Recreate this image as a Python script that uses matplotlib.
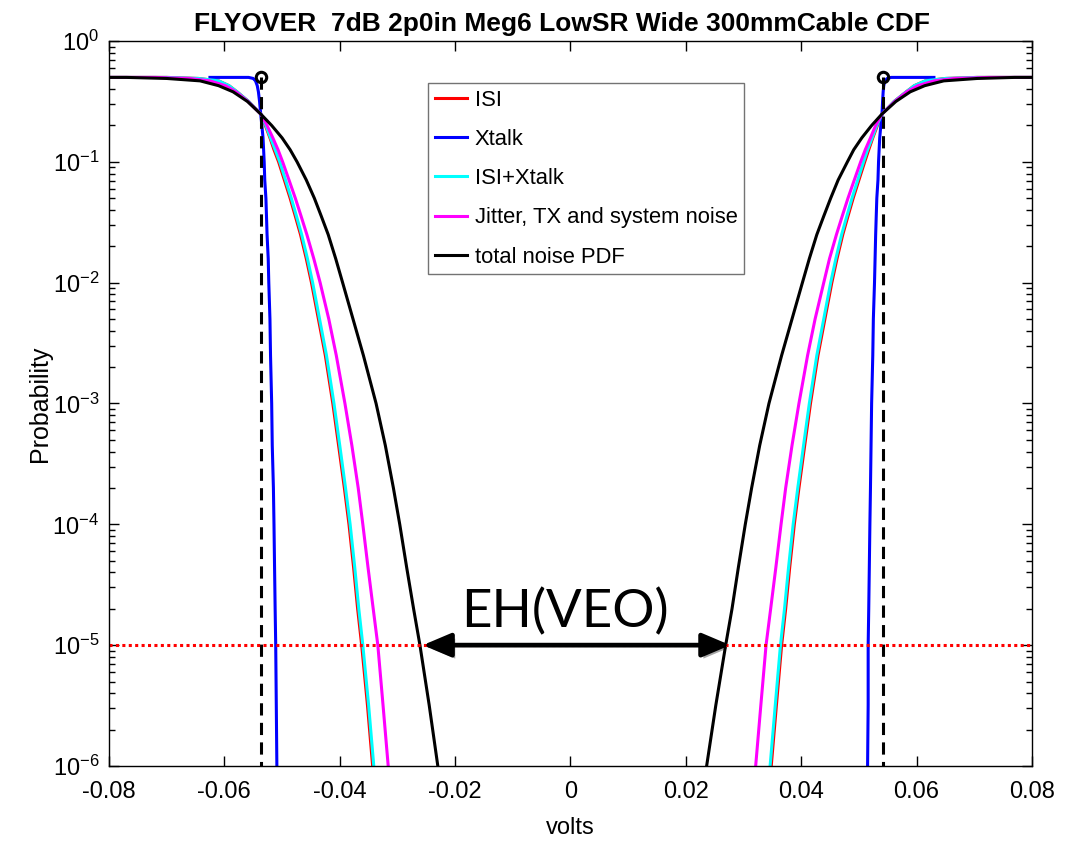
import numpy as np
import matplotlib.pyplot as plt
from matplotlib.patches import FancyArrowPatch
from matplotlib.ticker import LogLocator, NullFormatter
import matplotlib.patheffects as pe

plt.rcParams['font.family'] = ['Liberation Sans', 'DejaVu Sans']
plt.rcParams['axes.unicode_minus'] = False

# ----------------------------
# CDF data: volts at each probability level
# ----------------------------
prob = [0.5, 0.5, 0.49, 0.468, 0.427, 0.38, 0.316, 0.249, 0.2, 0.158, 0.126, 0.1,
        0.0708, 0.05, 0.0355, 0.025, 0.0158, 0.01, 5e-3, 2.5e-3, 1e-3, 4.5e-4,
        2e-4, 1e-4, 4.4e-5, 2e-5, 1e-5, 3.2e-6, 1e-6, 3.2e-7]

isi_left = [-0.080, -0.070, -0.0645, -0.061, -0.0592, -0.0578, -0.0558, -0.0537, -0.0529, -0.0521,
            -0.0514, -0.0506, -0.0496, -0.0486, -0.0477, -0.0468, -0.0458, -0.0449, -0.0437, -0.0425,
            -0.0412, -0.0402, -0.0392, -0.0384, -0.0376, -0.0369, -0.0362, -0.0352, -0.0343, -0.0334]
isi_right = [0.080, 0.0705, 0.065, 0.0615, 0.0596, 0.0582, 0.0561, 0.0540, 0.0532, 0.0524,
             0.0517, 0.0510, 0.0500, 0.0490, 0.0481, 0.0472, 0.0462, 0.0453, 0.0441, 0.0429,
             0.0416, 0.0406, 0.0396, 0.0388, 0.0380, 0.0373, 0.0366, 0.0357, 0.0348, 0.0339]

xtalk_left = [-0.0625, -0.0558, -0.0550, -0.0546, -0.0543, -0.0541, -0.0539, -0.0537, -0.0535, -0.0533,
              -0.0532, -0.0531, -0.0530, -0.0528, -0.0527, -0.0526, -0.0524, -0.0523, -0.0521, -0.0520,
              -0.0518, -0.0517, -0.0515, -0.0514, -0.0513, -0.0512, -0.0511, -0.0510, -0.0509, -0.0508]
xtalk_right = [0.0630, 0.0556, 0.0549, 0.0545, 0.0543, 0.0542, 0.0541, 0.0540, 0.0538, 0.0536,
               0.0535, 0.0534, 0.0533, 0.0531, 0.0530, 0.0529, 0.0528, 0.0527, 0.0525, 0.0524,
               0.0522, 0.0521, 0.0520, 0.0519, 0.0518, 0.0517, 0.0516, 0.0516, 0.0515, 0.0514]

isixt_left = [-0.080, -0.070, -0.0645, -0.061, -0.0592, -0.0578, -0.0558, -0.0537, -0.0528, -0.0520,
              -0.0512, -0.0504, -0.0494, -0.0484, -0.0475, -0.0466, -0.0456, -0.0447, -0.0435, -0.0423,
              -0.0410, -0.0400, -0.0390, -0.0382, -0.0374, -0.0367, -0.0360, -0.0350, -0.0341, -0.0332]
isixt_right = [0.080, 0.0705, 0.065, 0.0615, 0.0596, 0.0582, 0.0561, 0.0540, 0.0531, 0.0523,
               0.0515, 0.0508, 0.0498, 0.0488, 0.0479, 0.0470, 0.0460, 0.0451, 0.0439, 0.0427,
               0.0414, 0.0404, 0.0394, 0.0386, 0.0378, 0.0371, 0.0364, 0.0355, 0.0346, 0.0337]

jitter_left = [-0.080, -0.072, -0.066, -0.0625, -0.0598, -0.0580, -0.0559, -0.0537, -0.0526, -0.0516,
               -0.0507, -0.0499, -0.0488, -0.0477, -0.0467, -0.0457, -0.0445, -0.0434, -0.0419, -0.0406,
               -0.0391, -0.0379, -0.0368, -0.0360, -0.0351, -0.0342, -0.0334, -0.0325, -0.0316, -0.0307]
jitter_right = [0.080, 0.0725, 0.0665, 0.063, 0.0602, 0.0583, 0.0562, 0.0540, 0.0529, 0.0520,
                0.0511, 0.0503, 0.0492, 0.0481, 0.0471, 0.0461, 0.0449, 0.0439, 0.0424, 0.0411,
                0.0396, 0.0384, 0.0373, 0.0365, 0.0356, 0.0347, 0.0339, 0.0330, 0.0321, 0.0312]

total_left = [-0.080, -0.077, -0.070, -0.0642, -0.0610, -0.0585, -0.0560, -0.0537, -0.0518, -0.0500,
              -0.0486, -0.0474, -0.0458, -0.0444, -0.0432, -0.0420, -0.0407, -0.0395, -0.0377, -0.0359,
              -0.0337, -0.0321, -0.0307, -0.0296, -0.0284, -0.0272, -0.0261, -0.0245, -0.0230, -0.0216]
total_right = [0.080, 0.077, 0.0705, 0.0647, 0.0614, 0.0589, 0.0564, 0.0540, 0.0522, 0.0505,
               0.0491, 0.0480, 0.0464, 0.0451, 0.0439, 0.0427, 0.0414, 0.0402, 0.0384, 0.0366,
               0.0344, 0.0328, 0.0314, 0.0303, 0.0291, 0.0280, 0.0269, 0.0252, 0.0236, 0.0222]

series = [
    ("ISI", (1, 0, 0), isi_left, isi_right),
    ("Xtalk", (0, 0, 1), xtalk_left, xtalk_right),
    ("ISI+Xtalk", (0, 1, 1), isixt_left, isixt_right),
    ("Jitter, TX and system noise", (1, 0, 1), jitter_left, jitter_right),
    ("total noise PDF", (0, 0, 0), total_left, total_right),
]

# signal levels and BER target
level_left = -0.0537
level_right = 0.0541
level_prob = 0.5
target_ber = 1e-5
eh_left = -0.0256
eh_right = 0.0277

xtick_vals = [-0.08, -0.06, -0.04, -0.02, 0, 0.02, 0.04, 0.06, 0.08]
xtick_text = ["-0.08", "-0.06", "-0.04", "-0.02", "0", "0.02", "0.04", "0.06", "0.08"]
ytick_vals = [1e-6, 1e-5, 1e-4, 1e-3, 1e-2, 1e-1, 1e0]

# ----------------------------
# Plot
# ----------------------------
fig = plt.figure(figsize=(10.76, 8.46), dpi=100)
ax = fig.add_axes([0.1013, 0.0946, 0.8578, 0.8569])

p = np.array(prob)
for name, col, vl, vr in series:
    ax.semilogy(vl, p, color=col, lw=2.2, label=name)
    ax.semilogy(vr, p, color=col, lw=2.2)

# signal level markers
for v in (level_left, level_right):
    ax.semilogy([v, v], [level_prob, 1e-6], color="k", lw=2.2, dashes=(4, 2.4))
    ax.semilogy([v], [level_prob], "o", mfc="none", mec="k", mew=2.2, ms=7.5)

# BER target line
ax.axhline(target_ber, color=(1, 0, 0), lw=2.2, linestyle=(0, (1, 1.1)))

# eye height arrow
arr = FancyArrowPatch((eh_left, target_ber), (eh_right, target_ber),
                      arrowstyle="<|-|>,head_length=0.85,head_width=0.36",
                      mutation_scale=20, lw=3.4, color="k",
                      shrinkA=0, shrinkB=0, zorder=5)
arr.set_path_effects([pe.SimplePatchShadow(offset=(2, -2.5), alpha=0.35), pe.Normal()])
ax.add_patch(arr)
ax.text(-0.0009, 1.4e-5, "EH(VEO)", ha="center", va="baseline",
        fontsize=38, family=["Lato", "DejaVu Sans"])

ax.set_xlim(-0.08, 0.08)
ax.set_ylim(1e-6, 1)
ax.set_xticks(xtick_vals)
ax.set_xticklabels(xtick_text)
ax.set_yticks(ytick_vals)
ax.yaxis.set_minor_locator(LogLocator(base=10, subs=np.arange(2, 10)))
ax.yaxis.set_minor_formatter(NullFormatter())
ax.tick_params(which="both", direction="in", top=True, right=True, labelsize=17)
ax.tick_params(which="major", length=7, width=1)
ax.tick_params(which="minor", length=4, width=1)
ax.tick_params(axis="x", pad=11)
ax.tick_params(axis="y", pad=7)
for s in ax.spines.values():
    s.set_linewidth(1.0)

ax.set_title("FLYOVER  7dB 2p0in Meg6 LowSR Wide 300mmCable CDF",
             fontsize=19, fontweight="bold", pad=7, x=0.491)
ax.set_xlabel("volts", fontsize=17, labelpad=10)
ax.set_ylabel("Probability", fontsize=18)
ax.yaxis.set_label_coords(-0.062, 0.5)

leg = ax.legend(loc="upper left", bbox_to_anchor=(0.3456, 0.942),
                prop={"size": 15.8}, fancybox=False, edgecolor="0.45",
                framealpha=1, handlelength=1.5, handletextpad=0.32,
                labelspacing=0.83, borderpad=0.3, borderaxespad=0)
leg.get_frame().set_linewidth(1.0)

fig.savefig("out.png", dpi=100)
